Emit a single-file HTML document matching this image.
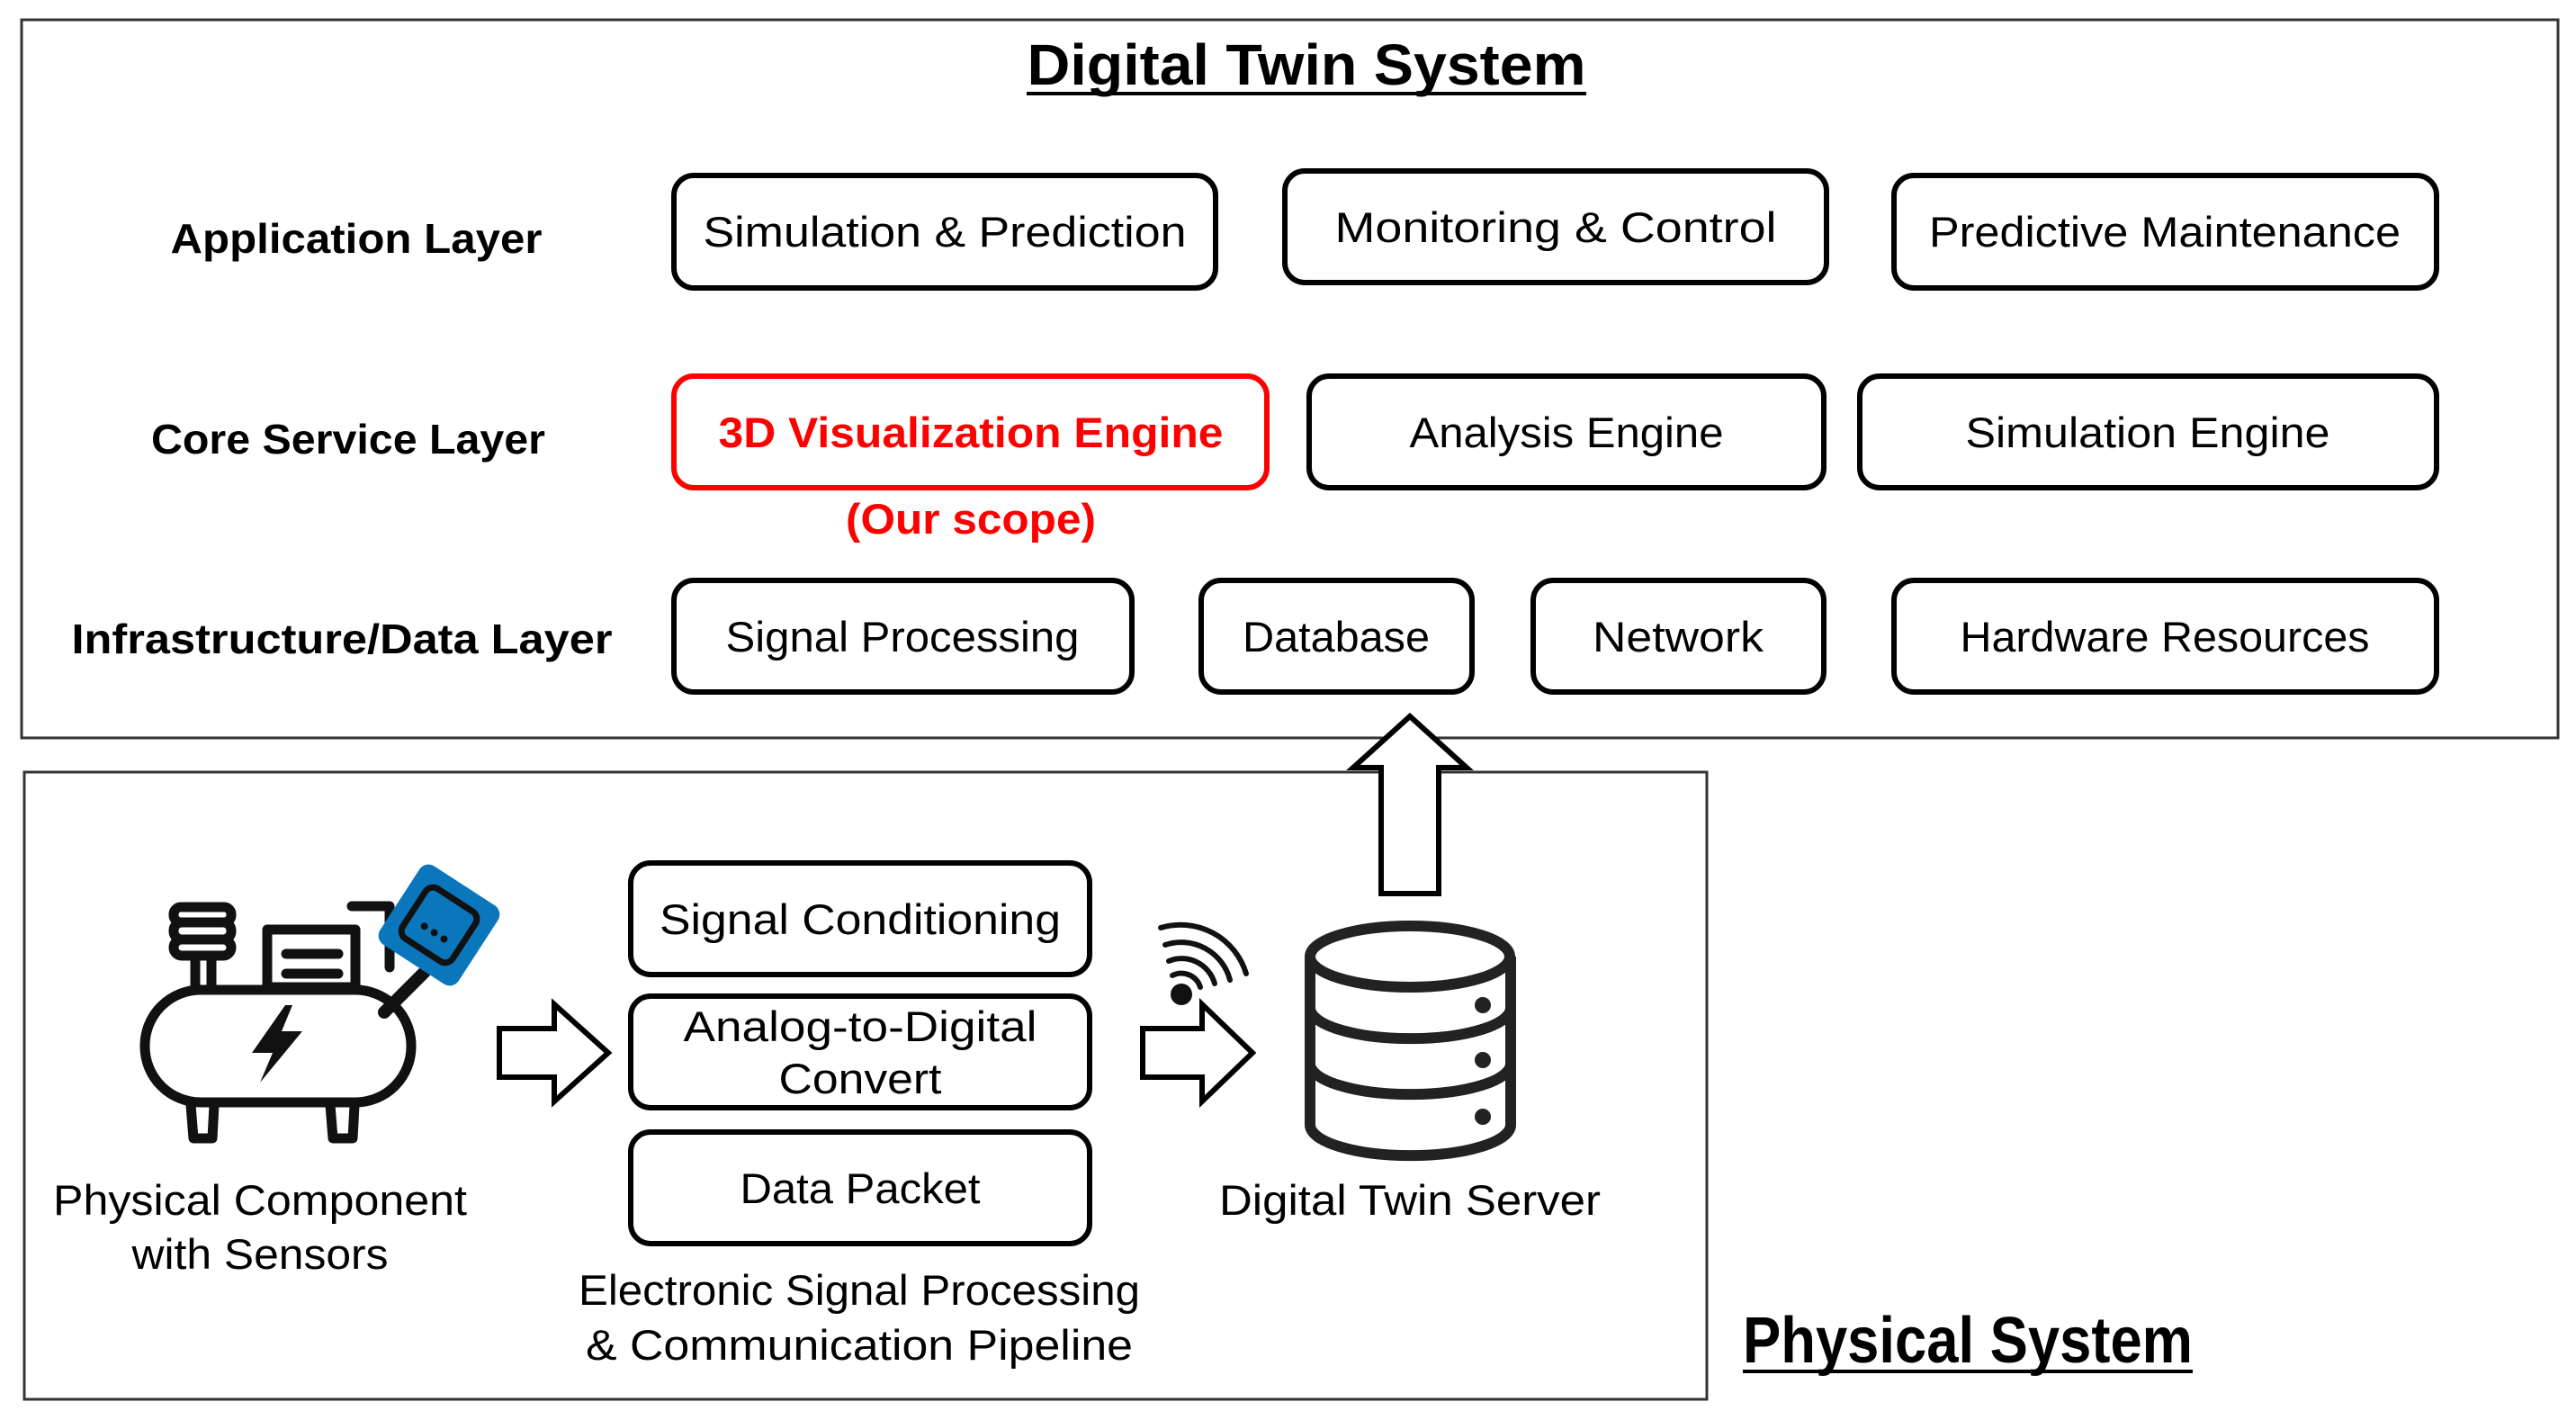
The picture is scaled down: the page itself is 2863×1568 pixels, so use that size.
<!DOCTYPE html>
<html><head><meta charset="utf-8"><style>
html,body{margin:0;padding:0;background:#fff;}
svg{display:block;}
text{font-family:"Liberation Sans",sans-serif;fill:#000;}
</style></head><body>
<svg width="2863" height="1568" viewBox="0 0 2863 1568" xmlns="http://www.w3.org/2000/svg">
<rect x="24" y="22" width="2819" height="798" fill="none" stroke="#333" stroke-width="3"/>
<rect x="27" y="858" width="1870" height="697" fill="none" stroke="#333" stroke-width="3"/>

<!-- titles -->
<text x="1452" y="94" font-size="64" font-weight="bold" text-anchor="middle" textLength="621" lengthAdjust="spacingAndGlyphs">Digital Twin System</text>
<line x1="1141" y1="104" x2="1763" y2="104" stroke="#000" stroke-width="4"/>
<text x="2187" y="1514" font-size="72" font-weight="bold" text-anchor="middle" textLength="500" lengthAdjust="spacingAndGlyphs">Physical System</text>
<line x1="1937" y1="1524" x2="2437" y2="1524" stroke="#000" stroke-width="4"/>

<!-- layer labels -->
<g font-size="46" font-weight="bold" text-anchor="middle">
<text x="396" y="281" textLength="413" lengthAdjust="spacingAndGlyphs">Application Layer</text>
<text x="387" y="504" textLength="438" lengthAdjust="spacingAndGlyphs">Core Service Layer</text>
<text x="380" y="726" textLength="601" lengthAdjust="spacingAndGlyphs">Infrastructure/Data Layer</text>
</g>

<!-- boxes -->
<g fill="none" stroke="#000" stroke-width="6">
<rect x="749" y="195" width="602" height="125" rx="22"/>
<rect x="1428" y="190" width="602" height="124" rx="22"/>
<rect x="2105" y="195" width="603" height="125" rx="22"/>
<rect x="1455" y="418" width="572" height="124" rx="22"/>
<rect x="2067" y="418" width="641" height="124" rx="22"/>
<rect x="749" y="645" width="509" height="124" rx="22"/>
<rect x="1335" y="645" width="301" height="124" rx="22"/>
<rect x="1704" y="645" width="323" height="124" rx="22"/>
<rect x="2105" y="645" width="603" height="124" rx="22"/>
<rect x="701" y="959" width="510" height="124" rx="22"/>
<rect x="701" y="1107" width="510" height="124" rx="22"/>
<rect x="701" y="1258" width="510" height="124" rx="22"/>
</g>
<rect x="749" y="418" width="659" height="124" rx="22" fill="none" stroke="#f00" stroke-width="6"/>

<g font-size="47" text-anchor="middle">
<text x="1050" y="274" textLength="537" lengthAdjust="spacingAndGlyphs">Simulation &amp; Prediction</text>
<text x="1729" y="269" textLength="491" lengthAdjust="spacingAndGlyphs">Monitoring &amp; Control</text>
<text x="2406" y="274" textLength="524" lengthAdjust="spacingAndGlyphs">Predictive Maintenance</text>
<text x="1741" y="497" textLength="349" lengthAdjust="spacingAndGlyphs">Analysis Engine</text>
<text x="2387" y="497" textLength="405" lengthAdjust="spacingAndGlyphs">Simulation Engine</text>
<text x="1003" y="724" textLength="393" lengthAdjust="spacingAndGlyphs">Signal Processing</text>
<text x="1485" y="724" textLength="208" lengthAdjust="spacingAndGlyphs">Database</text>
<text x="1865" y="724" textLength="190" lengthAdjust="spacingAndGlyphs">Network</text>
<text x="2406" y="724" textLength="455" lengthAdjust="spacingAndGlyphs">Hardware Resources</text>
<text x="956" y="1038" textLength="446" lengthAdjust="spacingAndGlyphs">Signal Conditioning</text>
<text x="956" y="1157" textLength="393" lengthAdjust="spacingAndGlyphs">Analog-to-Digital</text>
<text x="956" y="1215" textLength="181" lengthAdjust="spacingAndGlyphs">Convert</text>
<text x="956" y="1337" textLength="267" lengthAdjust="spacingAndGlyphs">Data Packet</text>
<text x="289" y="1350" textLength="460" lengthAdjust="spacingAndGlyphs">Physical Component</text>
<text x="289" y="1410" textLength="285" lengthAdjust="spacingAndGlyphs">with Sensors</text>
<text x="1567" y="1350" textLength="424" lengthAdjust="spacingAndGlyphs">Digital Twin Server</text>
<text x="955" y="1450" textLength="624" lengthAdjust="spacingAndGlyphs">Electronic Signal Processing</text>
<text x="955" y="1511" textLength="608" lengthAdjust="spacingAndGlyphs">&amp; Communication Pipeline</text>
</g>
<g font-size="47" font-weight="bold" text-anchor="middle" style="fill:#f00">
<text x="1079" y="497" textLength="561" lengthAdjust="spacingAndGlyphs" style="fill:#f00">3D Visualization Engine</text>
<text x="1079" y="593" textLength="278" lengthAdjust="spacingAndGlyphs" style="fill:#f00">(Our scope)</text>
</g>

<!-- arrows -->
<g fill="#fff" stroke="#000" stroke-width="6" stroke-linejoin="miter">
<polygon points="1567,796 1504,853 1535,853 1535,993 1599,993 1599,853 1630,853"/>
<polygon points="555,1143 616,1143 616,1116 676,1170 616,1224 616,1197 555,1197"/>
<polygon points="1270,1143 1336,1143 1336,1116 1392,1170 1336,1224 1336,1197 1270,1197"/>
</g>

<!-- wifi -->
<circle cx="1313" cy="1105" r="12" fill="#111"/>
<g fill="none" stroke="#111" stroke-width="6" stroke-linecap="round">
<path d="M1303,1084 A22,22 0 0 1 1334,1097"/>
<path d="M1299,1068 A38,38 0 0 1 1350,1093"/>
<path d="M1295,1050 A56,56 0 0 1 1367,1089"/>
<path d="M1290,1031 A76,76 0 0 1 1385,1082"/>
</g>

<!-- database -->
<g fill="none" stroke="#222" stroke-width="12">
<path d="M1456,1063 L1456,1250 A111,34 0 0 0 1679,1250 L1679,1063"/>
<ellipse cx="1567" cy="1063" rx="111" ry="34"/>
<path d="M1456,1120 A111,34 0 0 0 1679,1120"/>
<path d="M1456,1182 A111,34 0 0 0 1679,1182"/>
</g>
<g fill="#222">
<circle cx="1648" cy="1117" r="9"/><circle cx="1648" cy="1178" r="9"/><circle cx="1648" cy="1241" r="9"/>
</g>

<!-- compressor -->
<g fill="none" stroke="#111" stroke-width="11" stroke-linejoin="round">
<rect x="161" y="1100" width="296" height="125" rx="62"/>
<path d="M212,1228 L215,1265 L236,1265 L238,1228"/>
<path d="M367,1228 L370,1265 L392,1265 L394,1228"/>
<rect x="193" y="1008" width="64" height="17" rx="8"/>
<rect x="193" y="1025" width="64" height="19" rx="9"/>
<rect x="193" y="1044" width="64" height="18" rx="9"/>
<path d="M217,1062 L217,1098 M235,1062 L235,1098"/>
<rect x="297" y="1033" width="98" height="64"/>
<path d="M391,1007 L433,1007 L433,1075" stroke-linecap="round"/>
</g>
<g stroke="#111" stroke-width="11" stroke-linecap="round">
<line x1="318" y1="1060" x2="376" y2="1060"/>
<line x1="318" y1="1082" x2="376" y2="1082"/>
<line x1="472" y1="1080" x2="427" y2="1125" stroke-width="14"/>
</g>
<polygon points="317,1117 280,1170 303,1170 289,1203 336,1146 313,1146 325,1117" fill="#111"/>
<g transform="translate(488,1028) rotate(33)">
<rect x="-52" y="-52" width="104" height="104" rx="12" fill="#0a77bd"/>
<rect x="-33" y="-33" width="66" height="66" rx="10" fill="none" stroke="#111" stroke-width="7"/>
<circle cx="-13" cy="10" r="4" fill="#111"/><circle cx="0" cy="10" r="4" fill="#111"/><circle cx="13" cy="10" r="4" fill="#111"/>
</g>
</svg>
</body></html>
